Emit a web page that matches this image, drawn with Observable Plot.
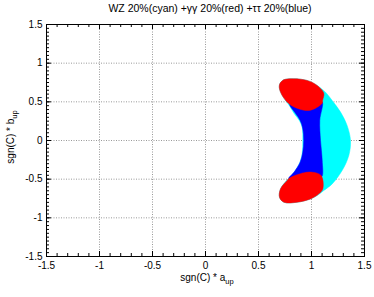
<!DOCTYPE html>
<html><head><meta charset="utf-8">
<script src="https://cdn.jsdelivr.net/npm/d3@7"></script>
<script src="https://cdn.jsdelivr.net/npm/@observablehq/plot@0.6"></script>
<style>body{margin:0;background:#fff} svg{display:block}</style>
</head><body><div id="chart"></div>
<script>
// ---- texts ----
const title = "WZ 20%(cyan) +γγ 20%(red) +ττ 20%(blue)";
const xLabelMain = "sgn(C) * a", xLabelSub = "up";
const yLabelMain = "sgn(C) * b", yLabelSub = "up";
const tickValues = [-1.5, -1, -0.5, 0, 0.5, 1, 1.5];
const tickLabels = ["-1.5", "-1", "-0.5", "0", "0.5", "1", "1.5"];
const gridValues = [-1, -0.5, 0, 0.5, 1];

// ---- regions (outline points) ----
const cyanX = [0.701, 0.739, 0.833, 0.959, 1.053, 1.132, 1.195, 1.274, 1.336, 1.368, 1.352, 1.289, 1.195, 1.116, 1.053, 0.991, 0.865, 0.739, 0.698, 0.708, 0.765, 0.825, 0.885, 0.912, 0.918, 0.912, 0.885, 0.838, 0.790, 0.733, 0.698];
const cyanY = [0.733, 0.785, 0.798, 0.776, 0.712, 0.625, 0.517, 0.367, 0.194, 0.000, -0.194, -0.388, -0.561, -0.647, -0.712, -0.755, -0.798, -0.798, -0.733, -0.625, -0.517, -0.431, -0.302, -0.172, 0.000, 0.172, 0.259, 0.345, 0.453, 0.561, 0.668];

const blueX = [0.795, 0.975, 1.100, 1.078, 1.085, 1.101, 1.095, 1.006, 0.912, 0.785, 0.840, 0.893, 0.918, 0.927, 0.918, 0.893, 0.845];
const blueY = [0.470, 0.400, 0.500, 0.259, 0.000, -0.259, -0.470, -0.420, -0.430, -0.490, -0.400, -0.280, -0.150, 0.000, 0.150, 0.260, 0.360];

const redTopX = [0.701, 0.739, 0.833, 0.959, 1.053, 1.116, 1.105, 1.101, 0.975, 0.802, 0.733, 0.698];
const redTopY = [0.733, 0.785, 0.798, 0.776, 0.712, 0.612, 0.520, 0.483, 0.388, 0.460, 0.561, 0.668];

const redBotX = [0.796, 0.912, 1.006, 1.091, 1.107, 1.069, 0.991, 0.865, 0.739, 0.698, 0.708, 0.770];
const redBotY = [-0.483, -0.423, -0.410, -0.453, -0.625, -0.690, -0.755, -0.798, -0.798, -0.733, -0.625, -0.517];

// ---- layout ----
const W = 374, H = 297, mL = 46, mR = 10, mT = 24, mB = 41;
const innerW = W - mL - mR, innerH = H - mT - mB;
const majorLen = 5, minorLen = 3;
const xMinor = d3.range(-1.5, 1.501, 0.1);
const yMinor = d3.range(-1.5, 1.501, 0.05);

const pts = (xs, ys) => xs.map((x, i) => ({x, y: ys[i]}));
const shape = (xs, ys, color) => Plot.line(pts(xs, ys), {
  x: "x", y: "y", fill: color, stroke: color, strokeWidth: 0.5, curve: "catmull-rom-closed"
});
const fmt = d => tickLabels[tickValues.indexOf(d)];

const chart = Plot.plot({
  width: W, height: H,
  marginLeft: mL, marginRight: mR, marginTop: mT, marginBottom: mB,
  x: {domain: [-1.5, 1.5], label: null},
  y: {domain: [-1.5, 1.5], label: null},
  style: {fontFamily: "'Liberation Sans', Arial, sans-serif", fontSize: "10px", background: "white", color: "black"},
  marks: [
    Plot.ruleX(gridValues, {stroke: "#999", strokeDasharray: "1,1.5"}),
    Plot.ruleY(gridValues, {stroke: "#999", strokeDasharray: "1,1.5"}),
    shape(cyanX, cyanY, "#00ffff"),
    shape(blueX, blueY, "#0000ff"),
    shape(redTopX, redTopY, "#ff0000"),
    shape(redBotX, redBotY, "#ff0000"),
    // minor ticks
    Plot.tickX(xMinor, {x: d => d, insetTop: innerH - minorLen, stroke: "black"}),
    Plot.tickX(xMinor, {x: d => d, insetBottom: innerH - minorLen, stroke: "black"}),
    Plot.tickY(yMinor, {y: d => d, insetRight: innerW - minorLen, stroke: "black"}),
    Plot.tickY(yMinor, {y: d => d, insetLeft: innerW - minorLen, stroke: "black"}),
    // major ticks
    Plot.tickX(tickValues, {x: d => d, insetTop: innerH - majorLen, stroke: "black"}),
    Plot.tickX(tickValues, {x: d => d, insetBottom: innerH - majorLen, stroke: "black"}),
    Plot.tickY(tickValues, {y: d => d, insetRight: innerW - majorLen, stroke: "black"}),
    Plot.tickY(tickValues, {y: d => d, insetLeft: innerW - majorLen, stroke: "black"}),
    Plot.frame({stroke: "black"}),
    Plot.axisX(tickValues, {anchor: "bottom", tickSize: 0, tickPadding: 5, tickFormat: fmt, label: null}),
    Plot.axisY(tickValues, {anchor: "left", tickSize: 0, tickPadding: 4, tickFormat: fmt, label: null})
  ]
});
document.getElementById("chart").appendChild(chart);

const svg = d3.select(chart);
svg.append("text").attr("x", 210).attr("y", 12).attr("text-anchor", "middle")
  .attr("font-size", "10.5px").attr("fill", "black").text(title);
const xl = svg.append("text").attr("x", 207).attr("y", 281).attr("text-anchor", "middle")
  .attr("font-size", "10px").attr("fill", "black");
xl.append("tspan").text(xLabelMain);
xl.append("tspan").attr("dy", 3).attr("font-size", "7.5px").text(xLabelSub);
const yl = svg.append("text").attr("transform", "translate(14,137) rotate(-90)").attr("text-anchor", "middle")
  .attr("font-size", "10px").attr("fill", "black");
yl.append("tspan").text(yLabelMain);
yl.append("tspan").attr("dy", 3).attr("font-size", "7.5px").text(yLabelSub);
</script>
</body></html>
